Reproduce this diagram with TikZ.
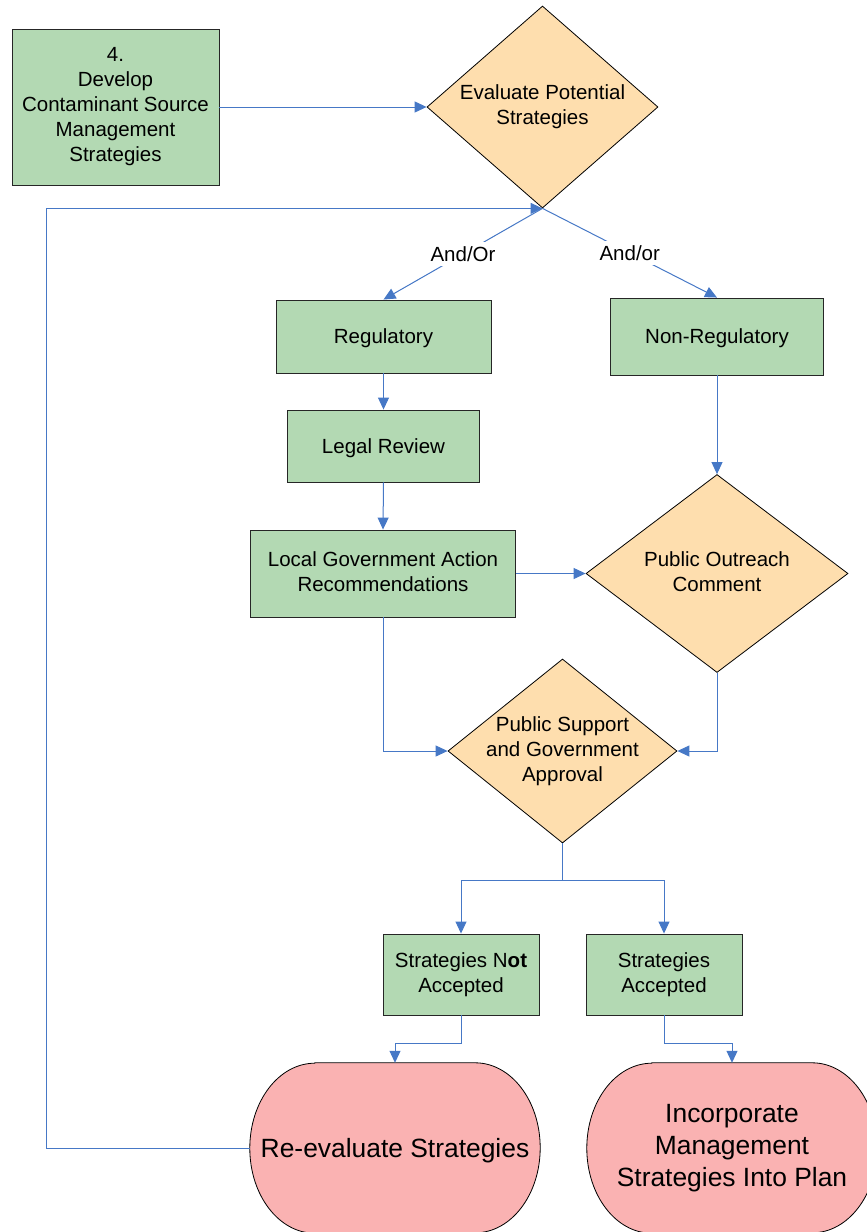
\documentclass[tikz,border=0pt]{standalone}
\usepackage{fontspec}
\setmainfont{Liberation Sans}
\usetikzlibrary{shapes.geometric,arrows.meta,backgrounds}
\definecolor{stepgreen}{RGB}{179,217,179}
\definecolor{decorange}{RGB}{254,222,174}
\definecolor{endpink}{RGB}{250,178,178}
\definecolor{linkblue}{RGB}{70,120,198}
\begin{document}
\begin{tikzpicture}[x=1pt,y=1pt,
  % struts give every line the full ascent/descent of the font
  txt/.style={font=\fontsize{20.5}{25}\selectfont, align=center,
    execute at begin node={\rule{0pt}{18.5pt}},
    execute at end node={\rule[-4.4pt]{0pt}{4.4pt}}},
  stepbox/.style={draw=black!85, fill=stepgreen, line width=0.9pt, inner sep=0pt, txt},
  decision/.style={diamond, draw=black, fill=decorange, line width=0.8pt, inner sep=0pt},
  endbox/.style={inner sep=0pt, minimum width=290pt, minimum height=170pt,
    font=\fontsize{26.4}{32}\selectfont, align=center,
    execute at begin node={\rule{0pt}{23.9pt}},
    execute at end node={\rule[-5.6pt]{0pt}{5.6pt}}},
  endshape/.style={draw=black, fill=endpink, line width=0.8pt},
  conn/.style={draw=linkblue, line width=1pt, -{Triangle[length=12pt,width=11pt]}},
  lbl/.style={fill=white, inner sep=1pt, txt}]

\useasboundingbox (0,0) rectangle (867,-1232);

% process steps and decisions
\node[stepbox, minimum width=207pt, minimum height=156pt] (dev) at (115.5,-107)
  {4.\\Develop\\Contaminant Source\\Management\\Strategies};
\node[decision, minimum width=231pt, minimum height=202pt] (eval) at (542.5,-107) {};
\node[txt] (eval-t) at (eval.center) {Evaluate Potential\\Strategies};

\node[stepbox, minimum width=215pt, minimum height=73pt] (reg) at (383.5,-336.5) {Regulatory};
\node[stepbox, minimum width=213pt, minimum height=77pt] (nonreg) at (717,-336.5) {Non-Regulatory};
\node[stepbox, minimum width=192pt, minimum height=72pt] (legal) at (383.5,-446) {Legal Review};
\node[stepbox, minimum width=265pt, minimum height=87pt] (localgov) at (383,-573.5)
  {Local Government Action\\Recommendations};

\node[decision, minimum width=262pt, minimum height=198pt] (outreach) at (717,-573.5) {};
\node[txt] (outreach-t) at (outreach.center) {Public Outreach\\Comment};

\node[decision, minimum width=229pt, minimum height=184pt] (support) at (562.5,-751) {};
\node[txt] (support-t) at (support.center) {Public Support\\and Government\\Approval};

\node[stepbox, minimum width=156pt, minimum height=81pt] (notacc) at (461,-974.5)
  {Strategies N\textbf{ot}\\Accepted};
\node[stepbox, minimum width=156pt, minimum height=81pt] (acc) at (664,-974.5)
  {Strategies\\Accepted};

% terminal outcomes
\node[endbox] (reeval) at (395,-1148) {Re-evaluate Strategies};
\node[endbox] (incorp) at (732,-1148) {Incorporate\\Management\\Strategies Into Plan};
\begin{scope}[on background layer]
  \foreach \n in {reeval,incorp}
    \draw[endshape] ([xshift=65pt]\n.north west) -- ([xshift=-65pt]\n.north east)
      arc[start angle=90, end angle=0, x radius=65pt, y radius=85pt]
      arc[start angle=0, end angle=-90, x radius=65pt, y radius=85pt]
      -- ([xshift=65pt]\n.south west)
      arc[start angle=270, end angle=180, x radius=65pt, y radius=85pt]
      arc[start angle=180, end angle=90, x radius=65pt, y radius=85pt]
      -- cycle;
\end{scope}

% connectors
\draw[conn] (dev.east) -- (eval.west);
\draw[conn] (reeval.west) -- ++(-203,0) |- (eval.south);
\draw[conn] (eval.south) -- node[lbl] (andor1) {And/Or} (reg.north);
\draw[conn] (eval.south) -- node[lbl] (andor2) {And/or} (nonreg.north);
\draw[conn] (reg.south) -- (legal.north);
\draw[conn] (legal.south) -- (localgov.north);
\draw[conn] (nonreg.south) -- (outreach.north);
\draw[conn] (localgov.east) -- (outreach.west);
\draw[conn] (localgov.south) |- (support.west);
\draw[conn] (outreach.south) |- (support.east);
\draw[conn] (support.south) -- ++(0,-37) -| (notacc.north);
\draw[conn] (support.south) -- ++(0,-37) -| (acc.north);
\draw[conn] (notacc.south) -- ++(0,-28) -| (reeval.north);
\draw[conn] (acc.south) -- ++(0,-28) -| (incorp.north);
\end{tikzpicture}
\end{document}
